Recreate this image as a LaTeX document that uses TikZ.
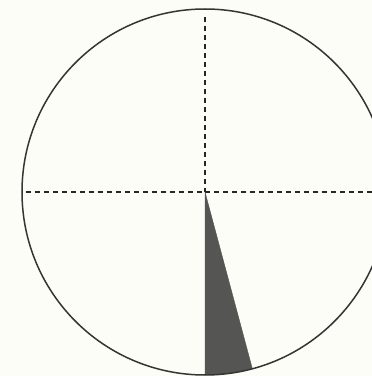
\documentclass[tikz,border=0pt]{standalone}
\usepackage{tikz}
\usetikzlibrary{positioning}

\definecolor{paper}{HTML}{FDFDF7}
\definecolor{rim}{HTML}{353535}
\definecolor{sector}{HTML}{555553}

\begin{document}
\begin{tikzpicture}[x=1pt,y=1pt]
	 \tikzstyle{rimline}=[draw=rim,line width=1.5pt]
	 \tikzstyle{axisline}=[draw=black!85,line width=1.2pt,dash pattern=on 5pt off 4pt]
	 \tikzstyle{slice}=[fill=sector,draw=sector,line width=0.4pt]
	 % frame and paper
	 \useasboundingbox (0,0) rectangle (372,376);
	 \clip (0,0) rectangle (372,376);
	 \fill[paper] (0,0) rectangle (372,376);
	 
	 \coordinate (o) at (205,184);
	 \coordinate (top) at (205,359);
	 \coordinate (west) at (26,184);
	 \coordinate (east) at (380,184);
	 
	 % the dark sector
	 \fill[slice] (o) -- ++(270:183) arc (270:285:183) -- cycle;
	 
	 % axes
	 \draw[axisline] (top) -- (o);
	 \draw[axisline] (west) -- (o);
	 \draw[axisline] (o) -- (east);
	 
	 \draw[rimline] (o) circle (183);
\end{tikzpicture}
\end{document}
